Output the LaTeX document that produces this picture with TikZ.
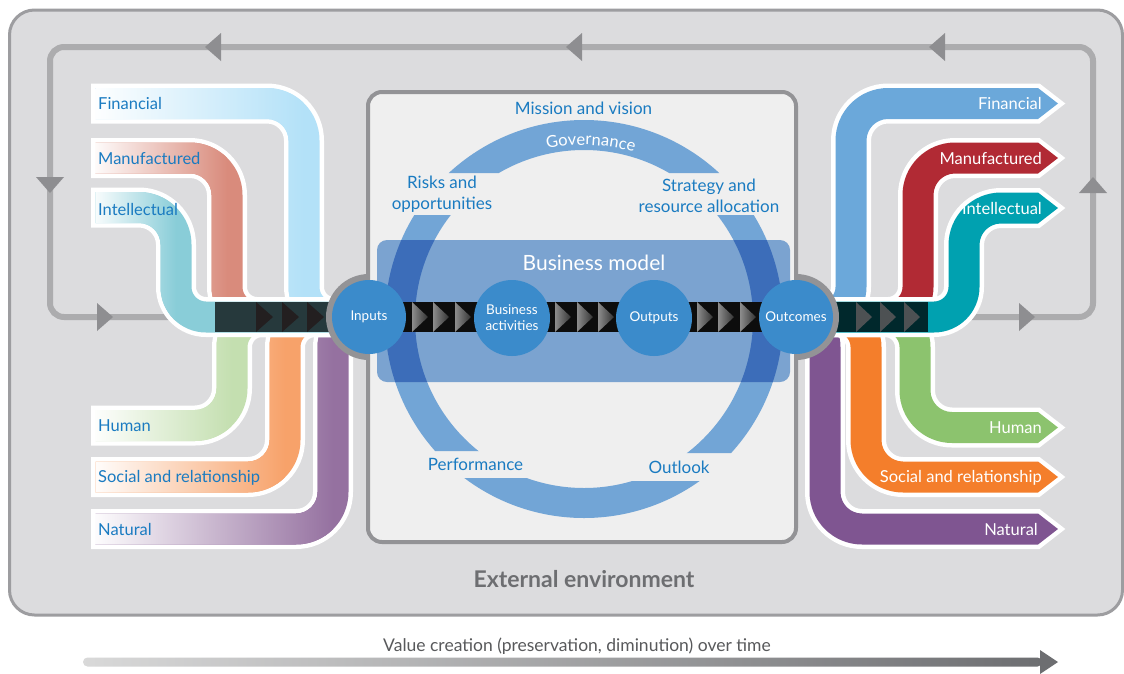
\documentclass[tikz,border=0pt]{standalone}
\usepackage{fontspec}
\setmainfont{Lato}
\usetikzlibrary{decorations.text}
\definecolor{bgout}{HTML}{DCDCDE}
\definecolor{bdout}{HTML}{9D9DA0}
\definecolor{loopc}{HTML}{ACACAE}
\definecolor{looparr}{HTML}{8E8E91}
\definecolor{boxbd}{HTML}{939396}
\definecolor{boxbg}{HTML}{EFEFEF}
\definecolor{ringc}{HTML}{72A5D6}
\definecolor{ringdk}{HTML}{3C6DB9}
\definecolor{bmc}{HTML}{7BA3D0}
\definecolor{circc}{HTML}{3B8BCB}
\definecolor{txtblue}{HTML}{1A7BC1}
\definecolor{extc}{HTML}{6D6E71}
\definecolor{valc}{HTML}{58595B}
\definecolor{lfin}{HTML}{B3E1F8}
\definecolor{lman}{HTML}{D98B7C}
\definecolor{lint}{HTML}{89CDD8}
\definecolor{lhum}{HTML}{C4DFB0}
\definecolor{lsoc}{HTML}{F7A26A}
\definecolor{lnat}{HTML}{9571A0}
\definecolor{rfin}{HTML}{6BA8DA}
\definecolor{rman}{HTML}{B12A34}
\definecolor{rint}{HTML}{00A1B0}
\definecolor{rhum}{HTML}{8CC36E}
\definecolor{rsoc}{HTML}{F47E2B}
\definecolor{rnat}{HTML}{7F5591}
\definecolor{tridk}{HTML}{231F20}
\definecolor{trigr}{HTML}{4D5153}

% band regions (pixel coordinates, y downwards)
% left top: x0, xv, yc, ys, xe
\def\RLT#1#2#3#4#5{(#1,{#3-15.5}) -- ({#2-37},{#3-15.5}) arc[start angle=-90,end angle=0,radius=52.5]
 -- ({#2+15.5},{#4-30}) arc[start angle=180,end angle=90,radius=14.5]
 -- (#5,{#4-15.5}) -- (#5,{#4+15.5}) -- ({#2+30},{#4+15.5})
 arc[start angle=90,end angle=180,radius=45.5]
 -- ({#2-15.5},{#3+37}) arc[start angle=0,end angle=-90,radius=21.5]
 -- (#1,{#3+15.5}) -- cycle}
% left bottom
\def\RLB#1#2#3#4#5{(#1,{#3-15.5}) -- ({#2-37},{#3-15.5}) arc[start angle=90,end angle=0,radius=21.5]
 -- ({#2-15.5},{#4+30}) arc[start angle=180,end angle=270,radius=45.5]
 -- (#5,{#4-15.5}) -- (#5,{#4+15.5}) -- ({#2+30},{#4+15.5})
 arc[start angle=270,end angle=180,radius=14.5]
 -- ({#2+15.5},{#3-37}) arc[start angle=0,end angle=90,radius=52.5]
 -- (#1,{#3+15.5}) -- cycle}
% right top: xs, xv, yc, ys, xt
\def\RRT#1#2#3#4#5{(#1,{#4-15.5}) -- ({#2-30},{#4-15.5}) arc[start angle=90,end angle=0,radius=14.5]
 -- ({#2-15.5},{#3+37}) arc[start angle=180,end angle=270,radius=52.5]
 -- (#5,{#3-15.5}) -- ({#5+20},#3) -- (#5,{#3+15.5}) -- ({#2+37},{#3+15.5})
 arc[start angle=270,end angle=180,radius=21.5]
 -- ({#2+15.5},{#4-30}) arc[start angle=0,end angle=90,radius=45.5]
 -- (#1,{#4+15.5}) -- cycle}
% right bottom
\def\RRB#1#2#3#4#5{(#1,{#4-15.5}) -- ({#2-30},{#4-15.5}) arc[start angle=-90,end angle=0,radius=45.5]
 -- ({#2+15.5},{#3-37}) arc[start angle=180,end angle=90,radius=21.5]
 -- (#5,{#3-15.5}) -- ({#5+20},#3) -- (#5,{#3+15.5}) -- ({#2+37},{#3+15.5})
 arc[start angle=90,end angle=180,radius=52.5]
 -- ({#2-15.5},{#4+30}) arc[start angle=0,end angle=-90,radius=14.5]
 -- (#1,{#4+15.5}) -- cycle}

\newcommand\leftbandT[3]{% xv, yc, color
 \draw[outline] \RLT{95.5}{#1}{#2}{317}{365};
 \begin{scope}\clip \RLT{95.5}{#1}{#2}{317}{365};
 \fill[#3] (80,0) rectangle (380,673);
 \shade[left color=white,right color=#3] (90,0) rectangle (#1,673);
 \end{scope}}
\newcommand\leftbandB[4]{% xv, yc, color, xe
 \draw[outline] \RLB{95.5}{#1}{#2}{317}{#4};
 \begin{scope}\clip \RLB{95.5}{#1}{#2}{317}{#4};
 \fill[#3] (80,0) rectangle (380,673);
 \shade[left color=white,right color=#3] (90,0) rectangle (#1,673);
 \end{scope}}
\newcommand\rightbandT[3]{%
 \draw[outline] \RRT{790}{#1}{#2}{317}{1038};
 \fill[#3] \RRT{790}{#1}{#2}{317}{1038};}
\newcommand\rightbandB[3]{%
 \draw[outline] \RRB{790}{#1}{#2}{317}{1038};
 \fill[#3] \RRB{790}{#1}{#2}{317}{1038};}

\newcommand\govfont{\fontsize{16.5}{16.5}\selectfont}

\tikzset{
 outline/.style={draw=white, line width=9pt, line join=miter},
 lbl/.style={font=\fontsize{16.5}{16.5}\selectfont, text=txtblue, inner sep=0pt, anchor=base west},
 rlbl/.style={font=\fontsize{16.5}{16.5}\selectfont, text=white, inner sep=0pt, anchor=base east},
 ctr/.style={font=\fontsize{17}{21}\selectfont, text=txtblue, align=center, inner sep=0pt},
 bcirc/.style={circle, fill=circc, text=white, inner sep=0pt, font=\fontsize{13.5}{16}\selectfont, align=center},
 looparrow/.style={fill=looparr},
 loopline/.style={draw=loopc, line width=6pt, rounded corners=14pt},
 midtri/.style={left color=black!45, right color=black!80},
}

\begin{document}
\begin{tikzpicture}[x=1pt,y=-1pt]
\useasboundingbox (0,0) rectangle (1124,673);
\fill[white] (0,0) rectangle (1124,673);

% outer environment
\draw[line width=3pt, draw=bdout, fill=bgout, rounded corners=25pt] (9.5,10) rectangle (1122.5,615);

% feedback loop
\draw[loopline] (200,317) -- (50,317) -- (50,47) -- (1093,47) -- (1093,317) -- (920,317);
\fill[looparrow] (205,47) -- (221,33) -- (221,61) -- cycle;
\fill[looparrow] (566,47) -- (582,33) -- (582,61) -- cycle;
\fill[looparrow] (929,47) -- (945,33) -- (945,61) -- cycle;
\fill[looparrow] (50,193) -- (36,177) -- (64,177) -- cycle;
\fill[looparrow] (113,317) -- (97,303) -- (97,331) -- cycle;
\fill[looparrow] (1093,177) -- (1079,193) -- (1107,193) -- cycle;
\fill[looparrow] (1035,317) -- (1019,303) -- (1019,331) -- cycle;

% input capitals (left)
\leftbandB{333}{529}{lnat}{368}
\leftbandB{285}{477}{lsoc}{365}
\leftbandB{232}{425.5}{lhum}{365}
\leftbandT{304}{103.5}{lfin}
\leftbandT{227}{158}{lman}
\leftbandT{176}{207.5}{lint}

% outcome capitals (right)
\rightbandB{825}{529}{rnat}
\rightbandB{866}{477}{rsoc}
\rightbandB{915}{427.5}{rhum}
\rightbandT{851}{103.5}{rfin}
\rightbandT{918}{158}{rman}
\rightbandT{964}{208}{rint}

% dark strips on the sides
\fill[black, opacity=0.72] (215,302) rectangle (369,332);
\foreach \x in {256,282,307} \fill[tridk] (\x,302) -- (\x+17,317) -- (\x,332) -- cycle;
\fill[black, opacity=0.75] (796,302) rectangle (928,332);
\foreach \x in {856,880,904} \fill[trigr] (\x,302) -- (\x+16,317) -- (\x,332) -- cycle;

% central box
\fill[boxbd] (369,317) circle (43);
\fill[boxbd] (796,317) circle (43);
\draw[line width=4pt, draw=boxbd, fill=boxbg, rounded corners=14pt] (368,92) rectangle (796,542);

% ring
\begin{scope}
\clip (300,0) rectangle (584,173) (300,215) rectangle (584,451) (300,478) rectangle (584,600)
      (584,0) rectangle (900,173) (584,215) rectangle (900,453) (584,481) rectangle (900,600);
\draw[ringc, line width=30pt] (584,319) circle (184);
\end{scope}

% business model
\fill[bmc, rounded corners=10pt] (377,240) rectangle (790,382);
\begin{scope}
\clip[rounded corners=10pt] (377,240) rectangle (790,382);
\draw[ringdk, line width=30pt] (584,319) circle (184);
\end{scope}
\node[font=\fontsize{21}{21}\selectfont, text=white, inner sep=0pt] (bm) at (594,263) {Business model};

% central strip
\fill[black!95] (369,302) rectangle (796,332);
\foreach \x in {412,433,455,555,577,598,697,718,740}
  \shade[midtri] (\x,302) -- (\x+16,317) -- (\x,332) -- cycle;

% process circles
\node[bcirc, minimum size=74pt] (inputs) at (369,317) {Inputs};
\node[bcirc, minimum size=76pt] (activities) at (512,318) {Business\\activities};
\node[bcirc, minimum size=76pt] (outputs) at (654,318) {Outputs};
\node[bcirc, minimum size=74pt] (outcomes) at (796,317) {Outcomes};

% ring labels
\node[ctr] (mission) at (583.5,108) {Mission and vision};
\path[decorate, decoration={text along path, text align=center, text color=white,
  text={|\govfont|Governance}}] (584,319) ++(247.2:174) arc[start angle=247.2, end angle=297.2, radius=174];
\node[ctr] (risks) at (442,194) {Risks and\\opportunities};
\node[ctr] (strategy) at (709,196) {Strategy and\\resource allocation};
\node[ctr] (perf) at (475.5,464) {Performance};
\node[ctr] (outlook) at (679,467) {Outlook};

% capital labels
\node[lbl] (lf) at (98,109.5) {Financial};
\node[lbl] (lm) at (98,164) {Manufactured};
\node[lbl] (li) at (98,215) {Intellectual};
\node[lbl] (lh) at (98,431) {Human};
\node[lbl] (ls) at (98,482) {Social and relationship};
\node[lbl] (ln) at (98,535) {Natural};
\node[rlbl] (rf) at (1042,109.5) {Financial};
\node[rlbl] (rm) at (1042,164) {Manufactured};
\node[rlbl] (ri) at (1042,214) {Intellectual};
\node[rlbl] (rh) at (1042,433) {Human};
\node[rlbl] (rs) at (1042,482) {Social and relationship};
\node[rlbl] (rn) at (1038,535) {Natural};

\node[font=\bfseries\fontsize{23}{23}\selectfont, text=extc, inner sep=0pt] (ext) at (584,579) {External environment};

% time axis
\shade[left color=black!15, right color=extc, rounded corners=4.5pt] (83,657.5) rectangle (1042,666.5);
\fill[extc] (1040,650) -- (1058,662) -- (1040,674) -- cycle;
\node[font=\fontsize{17.5}{17.5}\selectfont, text=valc, inner sep=0pt] (time) at (577,646) {Value creation (preservation, diminution) over time};
\end{tikzpicture}
\end{document}
